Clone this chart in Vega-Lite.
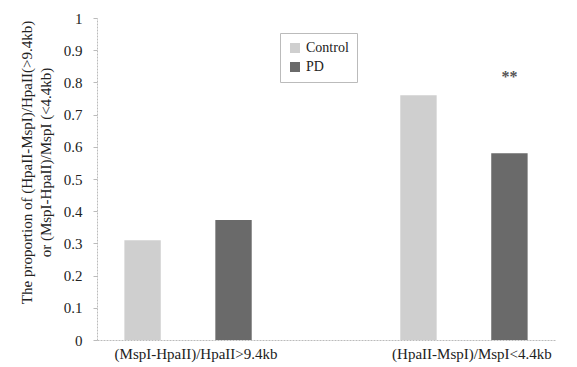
{
  "$schema": "https://vega.github.io/schema/vega-lite/v6.json",
  "width": 458,
  "height": 322,
  "autosize": {"type": "none"},
  "padding": {"left": 97, "top": 18, "right": 22, "bottom": 27},
  "background": "white",
  "config": {
    "view": {"stroke": null},
    "font": "Liberation Serif"
  },
  "data": {
    "values": [
      {"group": "(MspI-HpaII)/HpaII>9.4kb", "series": "Control", "value": 0.31, "sig": ""},
      {"group": "(MspI-HpaII)/HpaII>9.4kb", "series": "PD", "value": 0.373, "sig": ""},
      {"group": "(HpaII-MspI)/MspI<4.4kb", "series": "Control", "value": 0.76, "sig": ""},
      {"group": "(HpaII-MspI)/MspI<4.4kb", "series": "PD", "value": 0.58, "sig": "**"}
    ]
  },
  "encoding": {
    "x": {
      "field": "group", "type": "nominal", "sort": null,
      "scale": {"paddingInner": 0.4, "paddingOuter": 0.03},
      "axis": {
        "title": null, "labelAngle": 0, "ticks": false, "domainColor": "#bbbbbb",
        "domainDash": [2, 1], "labelFont": "Liberation Serif", "labelFontSize": 15,
        "labelColor": "#222222", "labelPadding": 6, "labelOffset": 8
      }
    },
    "xOffset": {
      "field": "series", "type": "nominal", "sort": ["Control", "PD"],
      "scale": {"paddingInner": 0.6, "paddingOuter": 0.21}
    },
    "y": {
      "field": "value", "type": "quantitative",
      "scale": {"domain": [0, 1]},
      "axis": {
        "values": [0, 0.1, 0.2, 0.3, 0.4, 0.5, 0.6, 0.7, 0.8, 0.9, 1],
        "format": ".1~f", "grid": false, "domainColor": "#bbbbbb", "domainDash": [2, 1],
        "tickColor": "#bbbbbb", "tickSize": 4, "labelFont": "Liberation Serif",
        "labelFontSize": 15, "labelColor": "#222222", "labelPadding": 11,
        "title": ["The proportion of (HpaII-MspI)/HpaII(>9.4kb)", "or (MspI-HpaII)/MspI (<4.4kb)"],
        "titleFont": "Liberation Serif", "titleFontSize": 15, "titleFontWeight": "normal",
        "titleColor": "#222222", "titleX": -63, "titleY": 144, "titleLineHeight": 19
      }
    }
  },
  "layer": [
    {
      "mark": {"type": "bar"},
      "encoding": {
        "color": {
          "field": "series", "type": "nominal",
          "scale": {"domain": ["Control", "PD"], "range": ["#cfcfcf", "#6a6a6a"]},
          "legend": {
            "title": null, "orient": "none", "legendX": 183, "legendY": 15,
            "symbolType": "square", "symbolSize": 100, "labelFont": "Liberation Serif",
            "labelFontSize": 14, "labelColor": "#222222", "padding": 8, "rowPadding": 5,
            "strokeColor": "#bbbbbb", "fillColor": "white"
          }
        }
      }
    },
    {
      "mark": {"type": "text", "dy": -76, "fontSize": 16, "fontWeight": "bold", "color": "#555555", "font": "Liberation Serif"},
      "encoding": {"text": {"field": "sig"}}
    }
  ]
}
